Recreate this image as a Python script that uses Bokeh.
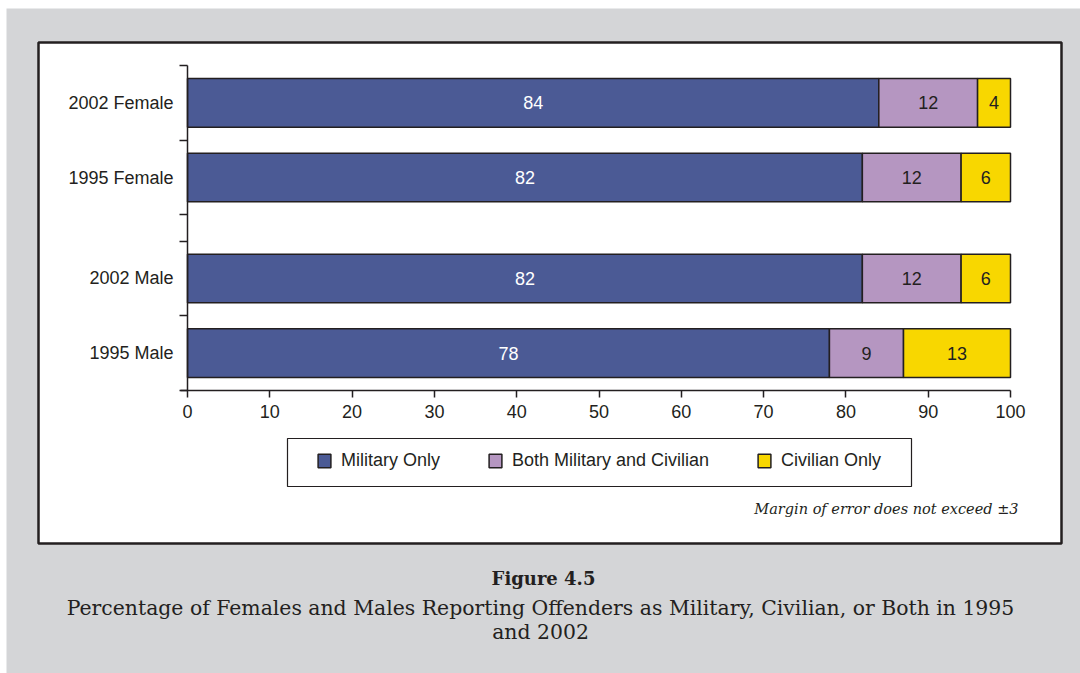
from bokeh.plotting import figure
from bokeh.models import (ColumnDataSource, FixedTicker, BoxAnnotation, Label,
                          Legend, LegendItem, Range1d)
from bokeh.core.properties import value
from bokeh.embed import file_html
from bokeh.resources import INLINE

# ---------------- data ----------------
categories = ["1995 Male", "2002 Male", "1995 Female", "2002 Female"]
groups = [0, 0, 1, 1]
series = ["Military Only", "Both Military and Civilian", "Civilian Only"]
military = [78, 82, 82, 84]
both = [9, 12, 12, 12]
civilian = [13, 6, 6, 4]
x_ticks = [0, 10, 20, 30, 40, 50, 60, 70, 80, 90, 100]

# ---------------- style / layout ----------------
colors = ["#4b5a95", "#b596c1", "#f8d700"]
text_colors = ["white", "#231f20", "#231f20"]
INK = "#231f20"
BG = "#d4d5d7"
SANS = "Liberation Sans"
SERIF = "DejaVu Serif"

W, H = 1080, 673
PL, PR, PT, PB = 187, 1010, 65, 390   # plotting area in canvas px

GAP = 0.35
ypos = [round(i + GAP * g, 3) for i, g in enumerate(groups)]
centers = [round(y + 0.5, 3) for y in ypos]
boundaries = sorted(set([round(y, 3) for y in ypos] + [round(y + 1, 3) for y in ypos]))
ytop = max(boundaries)

kx = (PR - PL) / 100.0
ky = (PB - PT) / ytop
x_range = Range1d(-PL / kx, (W - PL) / kx)
y_range = Range1d(-(H - PB) / ky, ytop + PT / ky)

src = ColumnDataSource(dict(y=centers, military=military, both=both, civilian=civilian))

p = figure(width=W, height=H, x_range=x_range, y_range=y_range,
           output_backend="svg", toolbar_location=None,
           min_border=0, min_border_left=0, min_border_right=0,
           min_border_top=0, min_border_bottom=0,
           border_fill_color="white", background_fill_color="white",
           outline_line_color=None)
p.title.visible = False
p.xgrid.visible = False
p.ygrid.visible = False

def canvas_box(l, t, r, b, **kw):
    return BoxAnnotation(left=l, right=r, top=t, bottom=b,
                         left_units="canvas", right_units="canvas",
                         top_units="canvas", bottom_units="canvas",
                         level="underlay", fill_alpha=1.0, line_alpha=1.0, **kw)

p.add_layout(canvas_box(6, 8, W, H, fill_color=BG, line_color=None))
p.add_layout(canvas_box(38, 42, 1061, 543, fill_color="white", line_color=INK, line_width=2.5))
p.add_layout(canvas_box(287, 438, 911, 486, fill_color="white", line_color=INK, line_width=1.2))

renderers = p.hbar_stack(["military", "both", "civilian"], y="y", height=0.65,
                         color=colors, line_color=INK, line_width=1.5, source=src)

# value labels
lx, ly, lt, lc = [], [], [], []
for i in range(len(categories)):
    vals = [military[i], both[i], civilian[i]]
    left = 0
    for j, v in enumerate(vals):
        lx.append(left + v / 2)
        ly.append(centers[i])
        lt.append(str(v))
        lc.append(text_colors[j])
        left += v
lsrc = ColumnDataSource(dict(x=lx, y=ly, text=lt, color=lc))
p.text(x="x", y="y", text="text", text_color="color", source=lsrc,
       text_align="center", text_baseline="middle",
       text_font=value(SANS), text_font_size="18px")

# axes
xa = p.xaxis[0]
xa.fixed_location = 0
xa.bounds = (-0.85, 100)
xa.ticker = FixedTicker(ticks=x_ticks)
xa.major_tick_out = 7
xa.major_tick_in = 0
xa.minor_tick_line_color = None
xa.axis_line_width = 1.5
xa.axis_line_color = INK
xa.major_tick_line_color = INK
xa.major_tick_line_width = 1.5
xa.major_label_standoff = 7
xa.major_label_text_font = SANS
xa.major_label_text_font_size = "18px"
xa.major_label_text_color = INK

ya = p.yaxis[0]
ya.fixed_location = 0
ya.bounds = (0, ytop)
ya.ticker = FixedTicker(ticks=centers, minor_ticks=boundaries)
ya.major_label_overrides = {c: n for c, n in zip(centers, categories)}
ya.major_tick_line_color = None
ya.major_tick_out = 0
ya.major_tick_in = 0
ya.minor_tick_out = 8
ya.minor_tick_in = 0
ya.minor_tick_line_color = INK
ya.minor_tick_line_width = 1.5
ya.axis_line_width = 1.5
ya.axis_line_color = INK
ya.major_label_standoff = 6
ya.major_label_text_font = SANS
ya.major_label_text_font_size = "18px"
ya.major_label_text_color = INK

# legend
legend = Legend(items=[LegendItem(label=s, renderers=[r]) for s, r in zip(series, renderers)],
                orientation="horizontal", location=(316, H - 471),
                padding=0, margin=0, spacing=47, label_standoff=9,
                glyph_width=16, glyph_height=17, label_height=17,
                border_line_alpha=0, background_fill_alpha=0,
                label_text_font=SANS, label_text_font_size="18px",
                label_text_color=INK)
p.add_layout(legend)

# notes and caption
p.add_layout(Label(x=1018, y=508, x_units="canvas", y_units="canvas",
                   text="Margin of error does not exceed \u00b13",
                   text_align="right", text_baseline="middle",
                   text_font=SERIF, text_font_style="italic",
                   text_font_size="14.5px", text_color=INK))
p.add_layout(Label(x=543, y=578, x_units="canvas", y_units="canvas",
                   text="Figure 4.5", text_align="center", text_baseline="middle",
                   text_font=SERIF, text_font_style="bold",
                   text_font_size="18px", text_color=INK))
p.add_layout(Label(x=540, y=607, x_units="canvas", y_units="canvas",
                   text="Percentage of Females and Males Reporting Offenders as Military, Civilian, or Both in 1995",
                   text_align="center", text_baseline="middle",
                   text_font=SERIF, text_font_size="20.4px", text_color=INK))
p.add_layout(Label(x=540, y=631, x_units="canvas", y_units="canvas",
                   text="and 2002", text_align="center", text_baseline="middle",
                   text_font=SERIF, text_font_size="20.4px", text_color=INK))

open("out.html", "w").write(file_html(p, INLINE))
